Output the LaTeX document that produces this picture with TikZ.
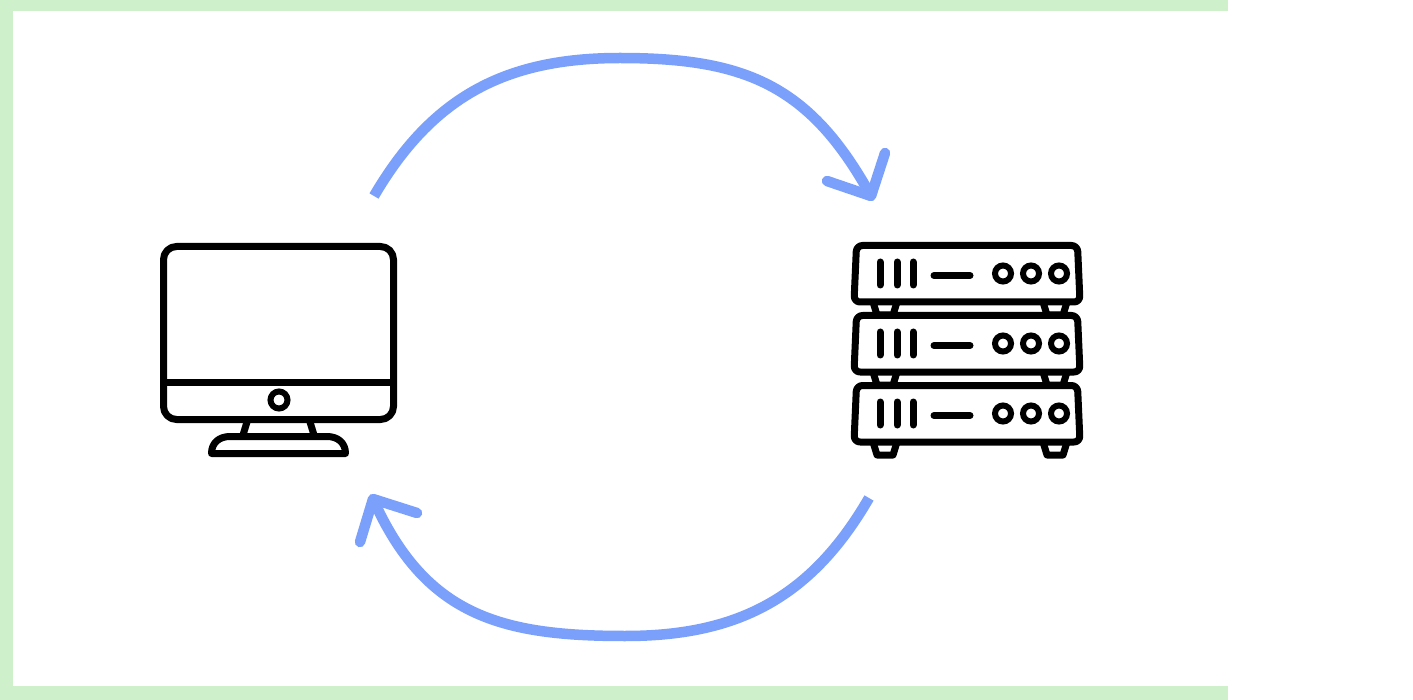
\documentclass[tikz,border=0pt]{standalone}
\definecolor{bandgreen}{HTML}{CEF1CC}
\definecolor{flowblue}{HTML}{7BA0FB}
\tikzset{
  icon/.style={draw=black,line width=7pt,line join=round,fill=none},
  iconcap/.style={icon,line cap=round},
  ring/.style={draw=black,line width=6pt,fill=none},
  flow/.style={draw=flowblue,line width=10.5pt,fill=none},
  flowhead/.style={flow,line cap=round,line join=round},
  region/.style={draw=none,fill=none,inner sep=0pt,outer sep=0pt}
}
\begin{document}
\begin{tikzpicture}[x=1pt,y=-1pt]
\useasboundingbox (0,0) rectangle (1413,700);
\fill[white] (0,0) rectangle (1413,700);
% green band
\fill[bandgreen] (0,0) rectangle (1228,11);
\fill[bandgreen] (0,686) rectangle (1228,700);
\fill[bandgreen] (0,0) rectangle (13,700);
% anchors
\node[region,minimum width=237pt,minimum height=214pt] (computer) at (278.5,350) {};
\node[region,minimum width=232pt,minimum height=216pt] (server) at (967,350) {};
\coordinate (topstart) at (374,196);
\coordinate (toptip) at (871,196);
\coordinate (botstart) at (869,498);
\coordinate (bottip) at (373,499);
% top arrow
\draw[flow] (topstart) .. controls (432,97) and (505,58) .. (620,58)
  .. controls (745,58) and (810,85) .. (toptip);
\draw[flowhead] (885,153) -- (toptip) -- (827,181);
% bottom arrow
\draw[flow] (botstart) .. controls (810,600) and (735,636) .. (625,636)
  .. controls (500,636) and (425,615) .. (bottip);
\draw[flowhead] (360,542) -- (bottip) -- (417,513);
% computer
\draw[icon,rounded corners=13pt] (163.5,246.5) rectangle (393.5,419.5);
\draw[icon] (163,382) -- (394,382);
\draw[ring] (279,400) circle (8.5);
\draw[icon] (247,422) -- (243,435);
\draw[icon] (310,422) -- (314,435);
\draw[icon] (211.5,453.5) .. controls (211.5,443) and (219,436.5) .. (230,436.5) -- (327,436.5)
  .. controls (338,436.5) and (345.5,443) .. (345.5,453.5) -- cycle;
% server
\foreach \dy in {0,70,140} {
  \begin{scope}[yshift=-\dy pt]
    \draw[icon,rounded corners=6pt] (856.5,245.5) -- (1077.5,245.5) -- (1080,302) -- (854,302) -- cycle;
    \foreach \sx in {880,897,913} \draw[iconcap] (\sx,262) -- (\sx,285);
    \draw[iconcap] (934,275.5) -- (970,275.5);
    \foreach \cx in {1003,1031,1059} \draw[ring] (\cx,273.5) circle (8);
    \draw[icon] (873,302) -- (877,315) -- (893,315) -- (897,302);
    \draw[icon] (1043,302) -- (1047,315) -- (1063,315) -- (1067,302);
  \end{scope}
}
\end{tikzpicture}
\end{document}
